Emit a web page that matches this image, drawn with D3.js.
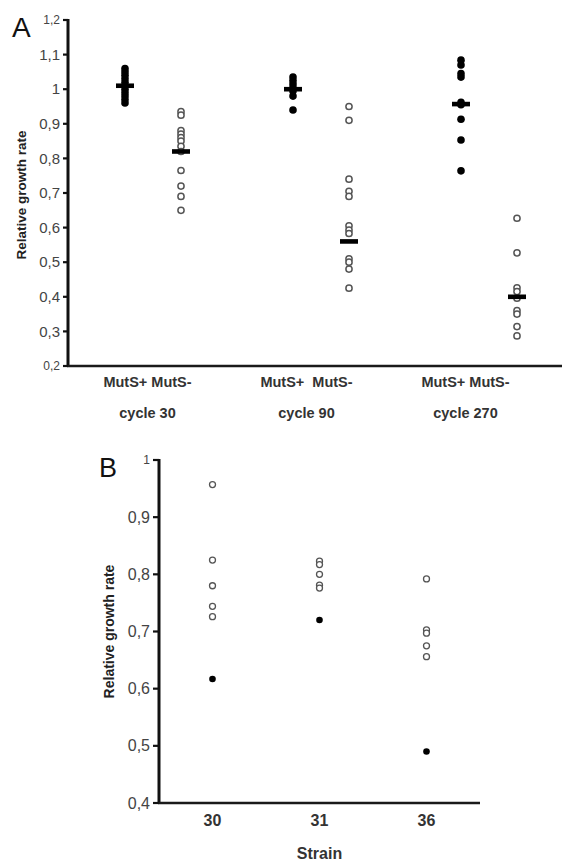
<!DOCTYPE html>
<html>
<head>
<meta charset="utf-8">
<script src="https://cdn.jsdelivr.net/npm/d3@7"></script>
<style>
  html, body { margin: 0; padding: 0; background: #fff; }
  svg { display: block; font-family: "Liberation Sans", Arial, sans-serif; }
</style>
</head>
<body>
<svg id="chart" width="562" height="861"></svg>
<script>
// Panel A: growth rate per population, by cycle and MutS status
const cyclesA = ['cycle 30', 'cycle 90', 'cycle 270'];
const pairLabelsA = ['MutS+ MutS-', 'MutS+  MutS-', 'MutS+ MutS-'];
const groupsA = ['30+', '30-', '90+', '90-', '270+', '270-'];
const groupSlotsA = [0, 1, 3, 4, 6, 7];
const groupFilledA = [true, false, true, false, true, false];
const valuesA = [
  [1.06, 1.05, 1.04, 1.03, 1.02, 1.01, 1.0, 0.99, 0.98, 0.97, 0.96],
  [0.935, 0.925, 0.88, 0.87, 0.86, 0.85, 0.835, 0.82, 0.765, 0.72, 0.69, 0.65],
  [1.035, 1.025, 1.015, 1.005, 0.995, 0.98, 0.94],
  [0.95, 0.91, 0.74, 0.705, 0.69, 0.605, 0.593, 0.583, 0.51, 0.5, 0.48, 0.425],
  [1.084, 1.07, 1.045, 1.035, 0.962, 0.955, 0.913, 0.853, 0.764],
  [0.627, 0.527, 0.426, 0.415, 0.396, 0.36, 0.35, 0.314, 0.287]
];
const mediansA = [1.01, 0.82, 1.0, 0.56, 0.957, 0.4];
const tickValuesA = [0.2, 0.3, 0.4, 0.5, 0.6, 0.7, 0.8, 0.9, 1.0, 1.1, 1.2];
const tickLabelsA = ['0,2', '0,3', '0,4', '0,5', '0,6', '0,7', '0,8', '0,9', '1', '1,1', '1,2'];

// Panel B: per strain, MutS- (open) and MutS+ (filled)
const strainsB = ['30', '31', '36'];
const openB = [
  [0.957, 0.825, 0.78, 0.744, 0.726],
  [0.823, 0.817, 0.8, 0.781, 0.776],
  [0.792, 0.703, 0.697, 0.675, 0.656]
];
const filledB = [0.617, 0.72, 0.49];
const tickValuesB = [0.4, 0.5, 0.6, 0.7, 0.8, 0.9, 1.0];
const tickLabelsB = ['0,4', '0,5', '0,6', '0,7', '0,8', '0,9', '1'];

const svg = d3.select('#chart');

const yA = d3.scaleLinear().domain([0.2, 1.2]).range([366, 20]);
const xA = d3.scaleLinear().domain([0, 7]).range([125, 517]);
const catA = d3.scaleBand().domain(cyclesA).range([68, 545]);

const yB = d3.scaleLinear().domain([0.4, 1.0]).range([803, 460]);
const xB = d3.scaleBand().domain(strainsB).range([159, 480]);

// ---------- Panel A ----------
svg.append('text')
  .attr('x', 12).attr('y', 37)
  .attr('font-size', 28)
  .attr('fill', '#111')
  .text('A');

svg.append('text')
  .attr('transform', `translate(26,${yA(0.7) + 2}) rotate(-90)`)
  .attr('text-anchor', 'middle')
  .attr('font-size', 13.5)
  .attr('font-weight', 'bold')
  .attr('fill', '#222')
  .text('Relative growth rate');

groupsA.forEach((g, gi) => {
  const cx = xA(groupSlotsA[gi]);
  const filled = groupFilledA[gi];
  valuesA[gi].forEach(v => {
    svg.append('circle')
      .attr('cx', cx)
      .attr('cy', yA(v))
      .attr('r', filled ? 3.8 : 3.1)
      .attr('fill', filled ? '#000' : '#fff')
      .attr('stroke', filled ? 'none' : '#555')
      .attr('stroke-width', 1.5);
  });
  svg.append('rect')
    .attr('x', cx - 9)
    .attr('y', yA(mediansA[gi]) - 2.3)
    .attr('width', 18)
    .attr('height', 4.6)
    .attr('fill', '#000');
});

cyclesA.forEach((c, ci) => {
  const cx = catA(c) + catA.bandwidth() / 2;
  svg.append('text')
    .attr('x', cx).attr('y', 387)
    .attr('text-anchor', 'middle')
    .attr('font-size', 14.5)
    .attr('font-weight', 'bold')
    .attr('fill', '#333')
    .style('white-space', 'pre')
    .text(pairLabelsA[ci]);
  svg.append('text')
    .attr('x', cx).attr('y', 418)
    .attr('text-anchor', 'middle')
    .attr('font-size', 14.5)
    .attr('font-weight', 'bold')
    .attr('fill', '#333')
    .text(c);
});

// ---------- Panel B ----------
svg.append('text')
  .attr('x', 99).attr('y', 477)
  .attr('font-size', 27)
  .attr('fill', '#111')
  .text('B');

svg.append('text')
  .attr('transform', `translate(114,${yB(0.7)}) rotate(-90)`)
  .attr('text-anchor', 'middle')
  .attr('font-size', 14)
  .attr('font-weight', 'bold')
  .attr('fill', '#222')
  .text('Relative growth rate');

strainsB.forEach((s, si) => {
  const cx = xB(s) + xB.bandwidth() / 2;
  openB[si].forEach(v => {
    svg.append('circle')
      .attr('cx', cx)
      .attr('cy', yB(v))
      .attr('r', 3)
      .attr('fill', '#fff')
      .attr('stroke', '#555')
      .attr('stroke-width', 1.3);
  });
  svg.append('circle')
    .attr('cx', cx)
    .attr('cy', yB(filledB[si]))
    .attr('r', 3.3)
    .attr('fill', '#000');
  svg.append('text')
    .attr('x', cx).attr('y', 826)
    .attr('text-anchor', 'middle')
    .attr('font-size', 16)
    .attr('font-weight', 'bold')
    .attr('fill', '#333')
    .text(s);
});

svg.append('text')
  .attr('x', (159 + 480) / 2)
  .attr('y', 859)
  .attr('text-anchor', 'middle')
  .attr('font-size', 16)
  .attr('font-weight', 'bold')
  .attr('fill', '#333')
  .text('Strain');

// ---------- Axes, drawn last ----------
function drawAxes(axisX, axisEnd, scale, values, labels, tickLen, fontSize, smallIdx) {
  const yTop = scale(values[values.length - 1]);
  const yBot = scale(values[0]);
  svg.append('line')
    .attr('x1', axisX).attr('x2', axisX)
    .attr('y1', yTop - 1).attr('y2', yBot + 1)
    .attr('stroke', '#111')
    .attr('stroke-width', 3);
  svg.append('line')
    .attr('x1', axisX - 1).attr('x2', axisEnd)
    .attr('y1', yBot).attr('y2', yBot)
    .attr('stroke', '#1a1a1a')
    .attr('stroke-width', 2.5);
  values.forEach((v, i) => {
    svg.append('line')
      .attr('x1', axisX - tickLen).attr('x2', axisX)
      .attr('y1', scale(v)).attr('y2', scale(v))
      .attr('stroke', '#111')
      .attr('stroke-width', 2.2);
    svg.append('text')
      .attr('x', axisX - tickLen - 3)
      .attr('y', scale(v))
      .attr('dy', '0.35em')
      .attr('text-anchor', 'end')
      .attr('fill', '#444')
      .attr('font-size', smallIdx.includes(i) ? 12 : fontSize)
      .text(labels[i]);
  });
}

drawAxes(68, 562, yA, tickValuesA, tickLabelsA, 5, 15, [0, tickValuesA.length - 1]);
drawAxes(159, 480, yB, tickValuesB, tickLabelsB, 6, 16, [tickValuesB.length - 1]);
</script>
</body>
</html>
